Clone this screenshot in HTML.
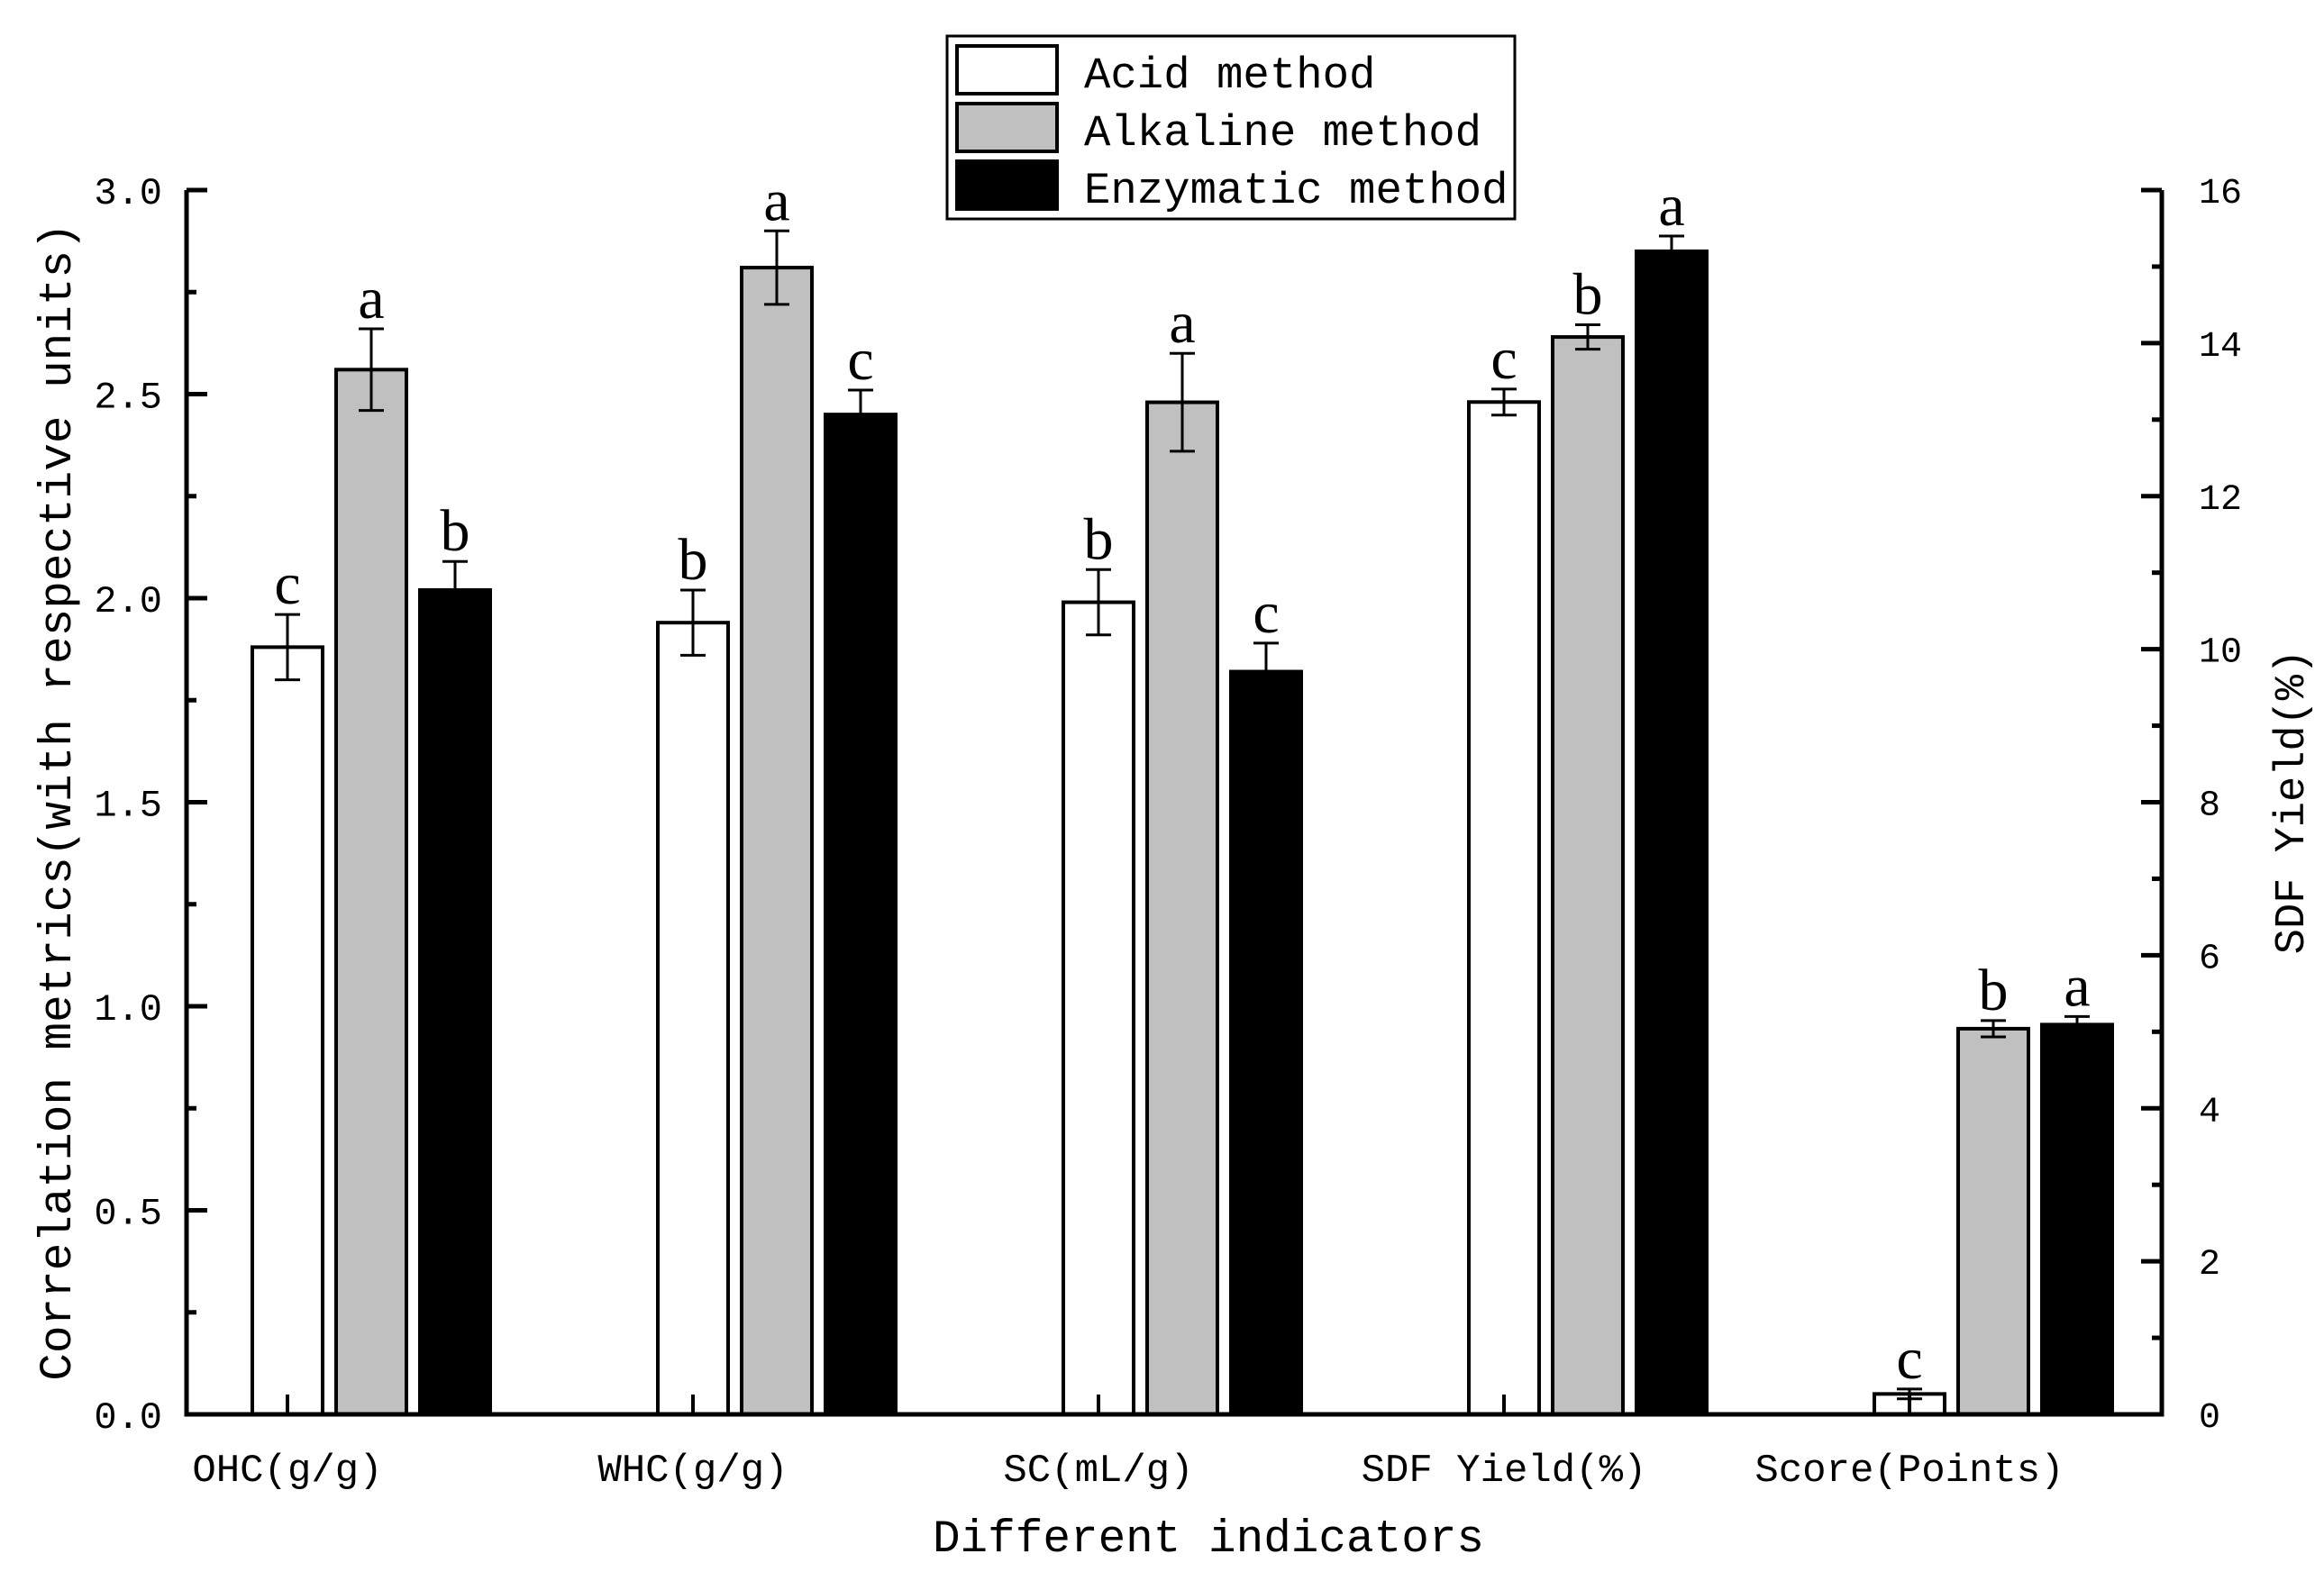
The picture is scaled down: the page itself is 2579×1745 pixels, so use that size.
<!DOCTYPE html>
<html><head><meta charset="utf-8">
<style>
html,body{margin:0;padding:0;background:#fff;}
svg{display:block;}
text{fill:#000;}
.mono{font-family:"Liberation Mono","Noto Sans CJK SC",monospace;}
.serif{font-family:"Liberation Serif",serif;}
</style></head>
<body>
<svg id="chart" width="2579" height="1745" viewBox="0 0 2579 1745" xmlns="http://www.w3.org/2000/svg">
  <rect x="0" y="0" width="2579" height="1745" fill="#fff"/>
  <g id="bars"></g>
  <g id="axes"></g>
  <g>
    <rect x="1051" y="40" width="630" height="203" fill="#fff" stroke="#000" stroke-width="3"/>
    <rect x="1062" y="51" width="111" height="53" fill="#fff" stroke="#000" stroke-width="4"/>
    <rect x="1062" y="115" width="111" height="53" fill="#c0c0c0" stroke="#000" stroke-width="4"/>
    <rect x="1062" y="179" width="111" height="53" fill="#000" stroke="#000" stroke-width="4"/>
    <text class="mono" x="1203" y="97" font-size="49">Acid method</text>
    <text class="mono" x="1203" y="161" font-size="49">Alkaline method</text>
    <text class="mono" x="1203" y="225" font-size="49">Enzymatic method</text>
  </g>
  <text class="mono" x="1341" y="1722" font-size="51" text-anchor="middle">Different indicators</text>
  <text class="mono" transform="translate(78,890) rotate(-90)" font-size="51" text-anchor="middle">Correlation metrics(with respective units)</text>
  <text class="mono" transform="translate(2556,890) rotate(-90)" font-size="47" text-anchor="middle">SDF Yield(%)</text>
</svg>
<script>
const categories = ["OHC(g/g)", "WHC(g/g)", "SC(mL/g)", "SDF Yield(%)", "Score(Points)"];
const seriesNames = ["Acid method", "Alkaline method", "Enzymatic method"];
// values on left axis except SDF Yield group, which uses the right axis (%)
const acidValues = [1.88, 1.94, 1.99, 13.23, 0.05];
const alkalineValues = [2.56, 2.81, 2.48, 14.08, 0.945];
const enzymaticValues = [2.02, 2.45, 1.82, 15.20, 0.955];
const acidErrors = [0.08, 0.08, 0.08, 0.17, 0.012];
const alkalineErrors = [0.10, 0.09, 0.12, 0.16, 0.02];
const enzymaticErrors = [0.07, 0.06, 0.07, 0.20, 0.02];
const acidLetters = ["c", "b", "b", "c", "c"];
const alkalineLetters = ["a", "a", "a", "b", "b"];
const enzymaticLetters = ["b", "c", "c", "a", "a"];
const rightAxisGroups = [false, false, false, true, false];
const leftTicks = ["0.0", "0.5", "1.0", "1.5", "2.0", "2.5", "3.0"];
const rightTicks = ["0", "2", "4", "6", "8", "10", "12", "14", "16"];

const NS = "http://www.w3.org/2000/svg";
const X0 = 207, X1 = 2399, Y0 = 1570, Y1 = 211;
const LMAX = 3, RMAX = 16;
function yL(v){ return Y0 - (v / LMAX) * (Y0 - Y1); }
function yR(v){ return Y0 - (v / RMAX) * (Y0 - Y1); }
function groupX(i){ return 412 + i * 450; }
function mk(tag, attrs, parent){
  const e = document.createElementNS(NS, tag);
  for (const k in attrs) e.setAttribute(k, attrs[k]);
  parent.appendChild(e);
  return e;
}
const barsG = document.getElementById("bars");
const axesG = document.getElementById("axes");
const fills = ["#fff", "#c0c0c0", "#000"];
const allVals = [acidValues, alkalineValues, enzymaticValues];
const allErrs = [acidErrors, alkalineErrors, enzymaticErrors];
const allLetters = [acidLetters, alkalineLetters, enzymaticLetters];
const keys = ["acid", "alkaline", "enzymatic"];
const BW = 78, STEP = 93;

categories.forEach((cat, i) => {
  const yf = rightAxisGroups[i] ? yR : yL;
  for (let s = 0; s < 3; s++) {
    const cx = groupX(i) + (s - 1) * STEP;
    const v = allVals[s][i], er = allErrs[s][i];
    const top = yf(v);
    const r = mk("rect", {x: cx - BW/2, y: top, width: BW, height: Y0 - top, fill: fills[s], stroke: "#000", "stroke-width": 4}, barsG);
    
    
    const et = yf(v + er), eb = yf(v - er);
    const g = mk("g", {stroke: "#000", "stroke-width": 3}, barsG);
    
    
    mk("line", {x1: cx, x2: cx, y1: et, y2: eb}, g);
    mk("line", {x1: cx - 14, x2: cx + 14, y1: et, y2: et}, g);
    mk("line", {x1: cx - 14, x2: cx + 14, y1: eb, y2: eb}, g);
    const t = mk("text", {x: cx, y: et - 12, "font-size": 66, "text-anchor": "middle", class: "serif"}, barsG);
    t.textContent = allLetters[s][i];
    
    
  }
  const tx = groupX(i) - STEP;
  const xt = mk("line", {x1: tx, x2: tx, y1: Y0, y2: Y0 - 22, stroke: "#000", "stroke-width": 4}, axesG);
  
  
  const lab = mk("text", {x: tx, y: 1644, "font-size": 44, "text-anchor": "middle", class: "mono"}, axesG);
  lab.textContent = cat;
  
  
});

const ax = mk("path", {d: `M${X0},${Y1} L${X0},${Y0} L${X1},${Y0} L${X1},${Y1}`, fill: "none", stroke: "#000", "stroke-width": 5}, axesG);



leftTicks.forEach((lbl, k) => {
  const v = parseFloat(lbl), y = yL(v);
  const tk = mk("line", {x1: X0, x2: X0 + 23, y1: y, y2: y, stroke: "#000", "stroke-width": 5}, axesG);
  
  
  if (k < leftTicks.length - 1) {
    const ym = yL(v + 0.25);
    const mt = mk("line", {x1: X0, x2: X0 + 11, y1: ym, y2: ym, stroke: "#000", "stroke-width": 5}, axesG);
    
    
  }
  const t = mk("text", {x: 180, y: y + 15, "font-size": 42, "text-anchor": "end", class: "mono"}, axesG);
  t.textContent = lbl;
  
  
});
rightTicks.forEach((lbl, k) => {
  const v = parseFloat(lbl), y = yR(v);
  const tk = mk("line", {x1: X1, x2: X1 - 23, y1: y, y2: y, stroke: "#000", "stroke-width": 5}, axesG);
  
  
  if (k < rightTicks.length - 1) {
    const ym = yR(v + 1);
    const mt = mk("line", {x1: X1, x2: X1 - 11, y1: ym, y2: ym, stroke: "#000", "stroke-width": 5}, axesG);
    
    
  }
  const t = mk("text", {x: 2440, y: y + 14, "font-size": 40, "text-anchor": "start", class: "mono"}, axesG);
  t.textContent = lbl;
  
  
});
</script>
</body></html>
